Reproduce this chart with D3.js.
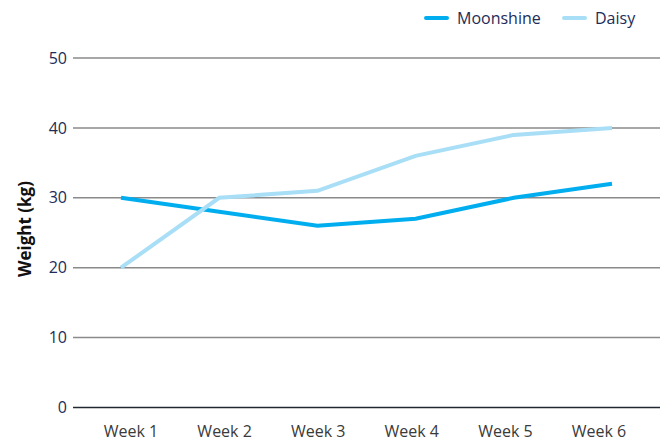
<!DOCTYPE html>
<html>
<head>
<meta charset="utf-8">
<script src="https://cdnjs.cloudflare.com/ajax/libs/d3/7.8.5/d3.min.js"></script>
<style>
  body { margin: 0; background: #fff; }
  svg text { font-family: "Open Sans", "Noto Sans", sans-serif; }
</style>
</head>
<body>
<script>
//chart data
var weeks = ["Week 1", "Week 2", "Week 3", "Week 4", "Week 5", "Week 6"];
var moonshine = [30, 28, 26, 27, 30, 32];
var daisy = [20, 30, 31, 36, 39, 40];
var yTicks = [0, 10, 20, 30, 40, 50];
var seriesNames = ["Moonshine", "Daisy"];
var seriesColors = ["#00aeef", "#a9def7"];

var width = 665, height = 441;

var svg = d3.select("body").append("svg")
    .attr("width", width)
    .attr("height", height);

//scales
var x = d3.scalePoint().domain(weeks).range([121, 612]);
var xLabel = d3.scalePoint().domain(weeks).range([131, 599]);
var y = d3.scaleLinear().domain([0, 50]).range([407.5, 58]);

//gridlines
svg.append("g")
    .selectAll("line")
    .data(yTicks)
    .enter().append("line")
    .attr("x1", 73)
    .attr("x2", 660)
    .attr("y1", function(d) { return y(d); })
    .attr("y2", function(d) { return y(d); })
    .attr("stroke", function(d) { return d === 0 ? "#222832" : "#8a8a8a"; })
    .attr("stroke-width", 1.5);

//y tick labels
svg.append("g")
    .selectAll("text")
    .data(yTicks)
    .enter().append("text")
    .attr("x", 67)
    .attr("y", function(d) { return y(d); })
    .attr("dy", "0.35em")
    .attr("text-anchor", "end")
    .attr("fill", "#1d2c58")
    .attr("font-size", 16)
    .text(function(d) { return d; });

//x labels
svg.append("g")
    .selectAll("text")
    .data(weeks)
    .enter().append("text")
    .attr("x", function(d) { return xLabel(d); })
    .attr("y", 437)
    .attr("text-anchor", "middle")
    .attr("fill", "#3a3a3a")
    .attr("font-size", 16)
    .text(function(d) { return d; });

//y axis title
svg.append("text")
    .attr("transform", "translate(31,229) rotate(-90)")
    .attr("text-anchor", "middle")
    .attr("font-size", 17)
    .attr("font-weight", "bold")
    .attr("fill", "#111")
    .text("Weight (kg)");

//lines
var line = d3.line()
    .x(function(d, i) { return x(weeks[i]); })
    .y(function(d) { return y(d); });

[moonshine, daisy].forEach(function(series, i) {
    svg.append("path")
        .datum(series)
        .attr("fill", "none")
        .attr("stroke", seriesColors[i])
        .attr("stroke-width", 4)
        .attr("d", line);
});

//legend
var legendX = [426, 564];
var legend = svg.append("g");
seriesNames.forEach(function(name, i) {
    legend.append("line")
        .attr("x1", legendX[i])
        .attr("x2", legendX[i] + 21)
        .attr("y1", 18)
        .attr("y2", 18)
        .attr("stroke", seriesColors[i])
        .attr("stroke-width", 4)
        .attr("stroke-linecap", "round");
    legend.append("text")
        .attr("x", legendX[i] + 31)
        .attr("y", 18)
        .attr("dy", "0.35em")
        .attr("font-size", 16)
        .attr("fill", "#1d2c58")
        .text(name);
});
</script>
</body>
</html>
